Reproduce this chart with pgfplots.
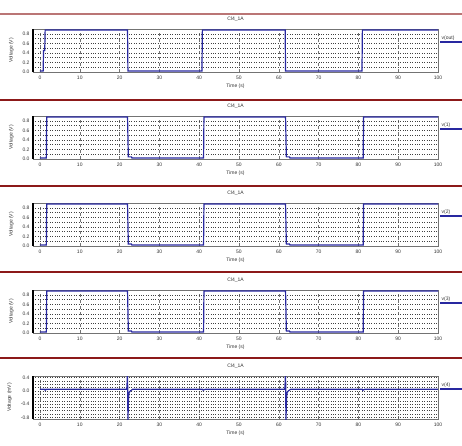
\documentclass[border=0pt]{standalone}
\usepackage{fontspec}
\setmainfont{Liberation Sans}
\usepackage{pgfplots}
\pgfplotsset{compat=1.18}
\definecolor{trace}{RGB}{40,40,160}
\definecolor{sep}{RGB}{140,25,25}
\pgfplotsset{
  panel/.style={
    scale only axis, width=405pt, height=43pt, anchor=north west,
    xmin=-1.75, xmax=100, xtick={0,10,...,100},
    /pgf/number format/assume math mode=true,
    ticklabel style={font=\fontsize{5}{5}\selectfont, text=black!80},
    label style={font=\fontsize{5}{5}\selectfont, text=black!80},
    title style={font=\fontsize{5}{5}\selectfont, text=black!80, yshift=-2pt},
    title={Cl4\_1A},
    xlabel={Time (s)},
    xlabel style={yshift=2pt},
    ylabel style={yshift=2pt},
    axis line style={black!55, line width=0.6pt},
    major tick length=0pt, minor tick length=0pt,
    xmajorgrids, ymajorgrids, yminorgrids,
    major x grid style={black!55, dashed, line width=0.4pt},
    major y grid style={black!75, dotted, line width=0.5pt},
    minor y grid style={black!75, dotted, line width=0.5pt},
    no markers,
    every axis plot post/.append style={trace, line width=1.2pt, mark=none},
    clip=true,
    yticklabel style={/pgf/number format/fixed, /pgf/number format/fixed zerofill, /pgf/number format/precision=1},
  },
  vpanel/.style={panel, ymin=0, ymax=0.9, ytick={0,0.2,0.4,0.6,0.8}, minor y tick num=1, ylabel={Voltage (V)}},
}
\newcommand{\decor}[1]{%
  \draw[black, line width=1.8pt] (rel axis cs:0,0) -- (rel axis cs:0,1);
  \node[anchor=south west, font=\fontsize{5}{5}\selectfont, text=black!80, inner sep=0.5pt] at ([xshift=3pt,yshift=-12pt]rel axis cs:1,1) {#1};
  \draw[trace, line width=1.3pt] ([xshift=2pt,yshift=-13pt]rel axis cs:1,1) -- ([xshift=24pt,yshift=-13pt]rel axis cs:1,1);
}
\begin{document}
\begin{tikzpicture}
\useasboundingbox (0,0) rectangle (462pt,-445pt);
% panel 1
\begin{axis}[vpanel, at={(33pt,-29pt)}, clip mode=individual]
\addplot coordinates {(0,0.02) (0.8,0.02) (0.9,0.45) (1.2,0.45) (1.3,0.88) (22.0,0.88) (22.1,0.02) (40.7,0.02) (40.8,0.88) (61.6,0.88) (61.7,0.02) (80.9,0.02) (81.0,0.88) (100,0.88)};
\decor{v(out)}
\end{axis}
% panel 2
\begin{axis}[vpanel, at={(33pt,-116pt)}, clip mode=individual]
\addplot coordinates {(0,0.02) (1.6,0.02) (1.7,0.88) (22.0,0.88) (22.2,0.045) (23.0,0.045) (23.1,0.02) (41.1,0.02) (41.2,0.88) (61.7,0.88) (61.9,0.045) (62.7,0.045) (62.8,0.02) (81.2,0.02) (81.3,0.88) (100,0.88)};
\decor{v(1)}
\end{axis}
% panel 3
\begin{axis}[vpanel, at={(33pt,-203pt)}, clip mode=individual]
\addplot coordinates {(0,0.02) (1.6,0.02) (1.7,0.88) (22.0,0.88) (22.2,0.04) (23.0,0.04) (23.1,0.02) (41.1,0.02) (41.2,0.88) (61.7,0.88) (61.9,0.04) (62.7,0.04) (62.8,0.02) (81.2,0.02) (81.3,0.88) (100,0.88)};
\decor{v(2)}
\end{axis}
% panel 4
\begin{axis}[vpanel, at={(33pt,-290pt)}, clip mode=individual]
\addplot coordinates {(0,0.02) (1.6,0.02) (1.7,0.88) (22.0,0.88) (22.2,0.04) (23.0,0.04) (23.1,0.02) (41.1,0.02) (41.2,0.88) (61.7,0.88) (61.9,0.04) (62.7,0.04) (62.8,0.02) (81.2,0.02) (81.3,0.88) (100,0.88)};
\decor{v(3)}
\end{axis}
% panel 5
\begin{axis}[panel, at={(33pt,-376pt)}, clip mode=individual,
  ymin=-0.85, ymax=0.45, ytick={-0.8,-0.4,0,0.4}, minor y tick num=3, ylabel={Voltage (mV)}]
\addplot coordinates {(0,0.05) (1.2,0.05) (1.3,0.02) (1.6,0.05) (21.8,0.05) (21.9,0.25) (22.0,0.6) (22.1,-0.9) (22.25,-0.2) (22.4,-0.05) (22.7,0.0) (23.3,0.05) (40.9,0.05) (41.0,0.02) (41.5,0.05) (61.5,0.05) (61.6,0.25) (61.7,0.6) (61.8,-0.9) (61.95,-0.2) (62.1,-0.05) (62.4,0.0) (63.0,0.05) (81.0,0.05) (81.1,0.02) (81.6,0.05) (100,0.05)};
\decor{v(4)}
\end{axis}
% separators
\draw[sep!60!white, line width=1.2pt] (0,-14pt) -- (462pt,-14pt);
\foreach \y in {100,186,272,358} {\draw[sep, line width=2pt] (0,-\y pt) -- (462pt,-\y pt);}
\end{tikzpicture}
\end{document}
